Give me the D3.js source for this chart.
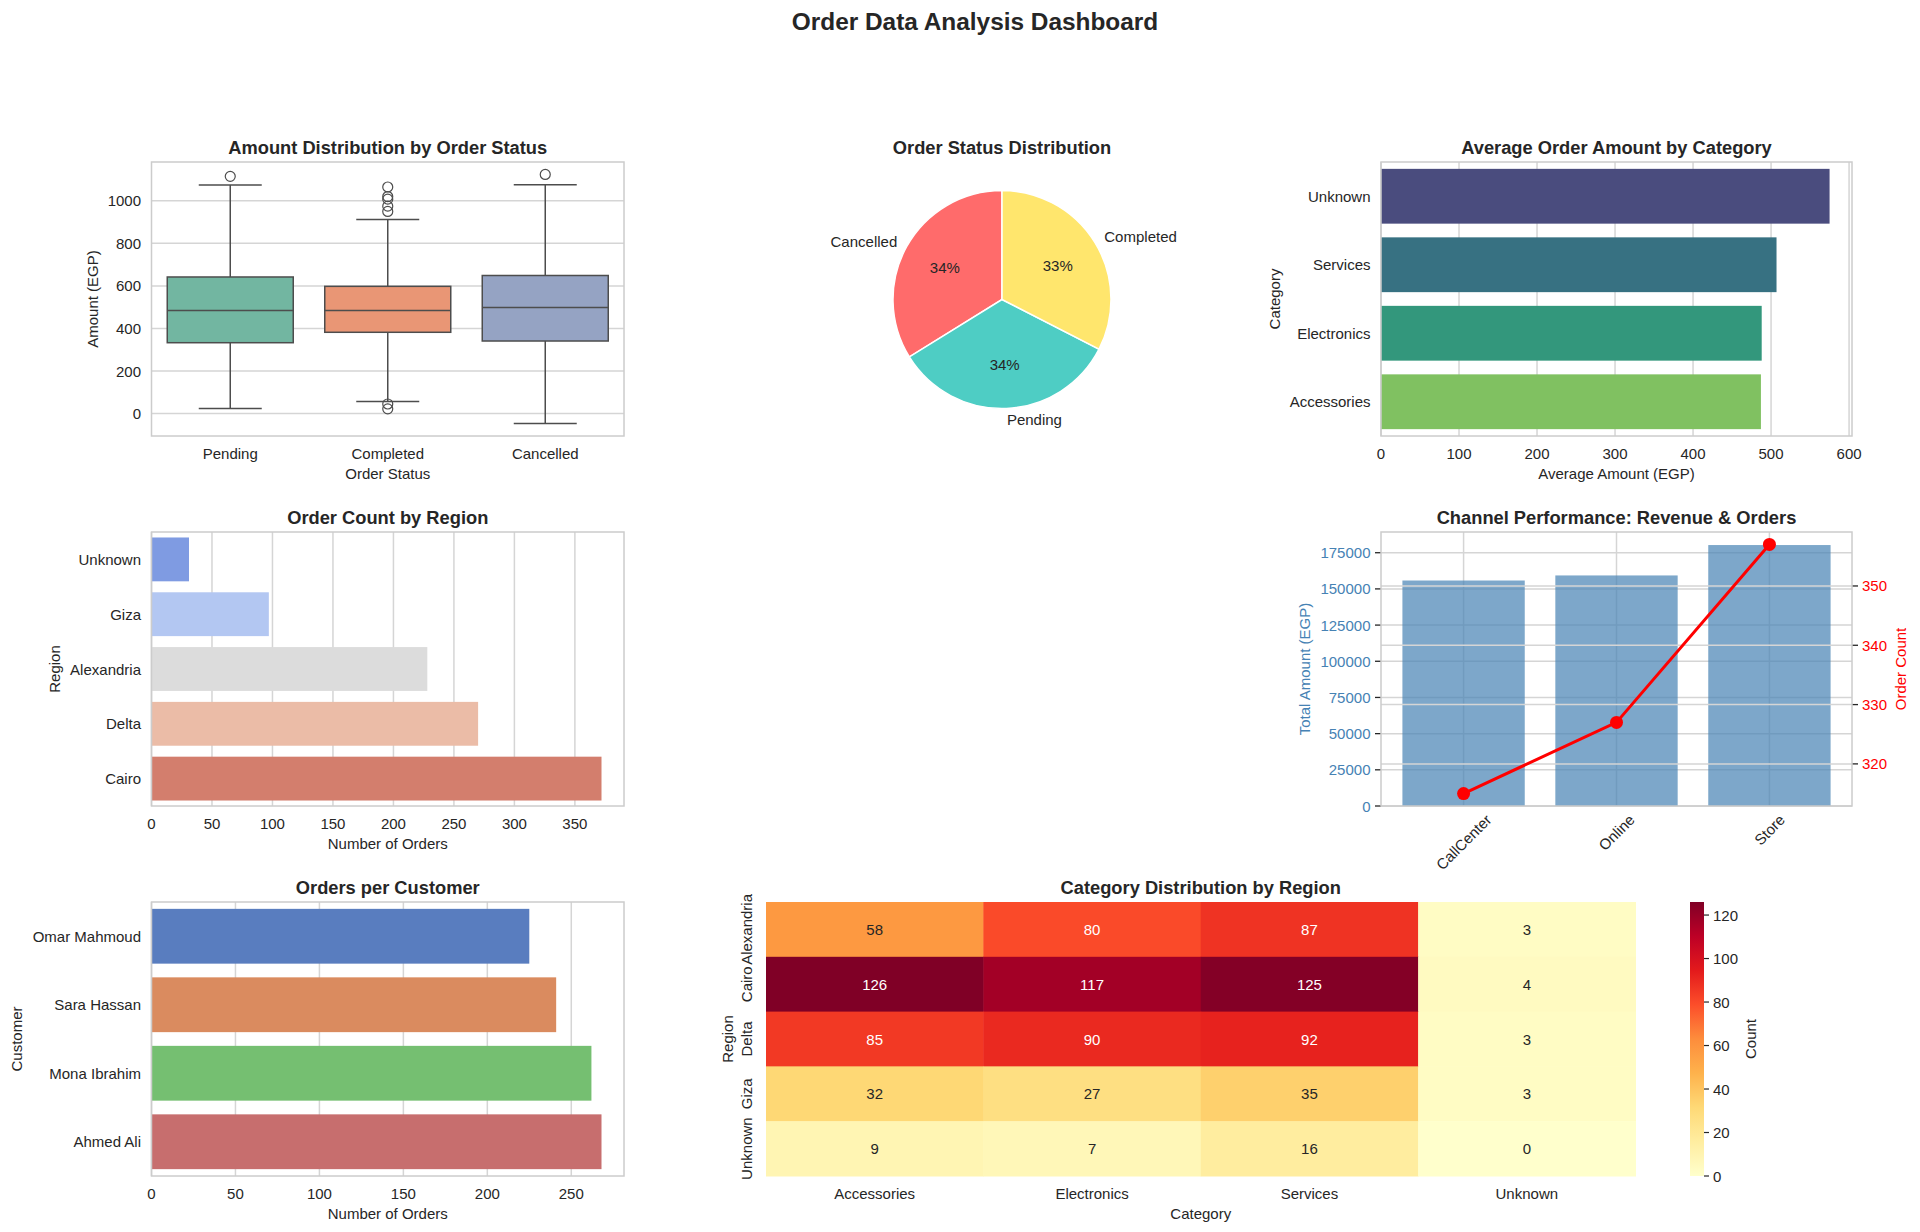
<!DOCTYPE html>
<html><head><meta charset="utf-8">
<script src="https://cdn.jsdelivr.net/npm/d3@7"></script>
<style>body{margin:0;background:#fff;} svg text{font-family:"Liberation Sans",Arial,Helvetica,sans-serif;}</style>
</head><body>
<svg id="c" width="1920" height="1232"></svg>
<script>
// ---------------- DATA ----------------
const boxStatus = ["Pending", "Completed", "Cancelled"];
const boxLowWhisker = [24, 57, -47];
const boxQ1 = [333, 382, 341];
const boxMedian = [485, 485, 499];
const boxQ3 = [642, 598, 649];
const boxHighWhisker = [1074, 912, 1076];
const boxOutliers = [[1115], [1065, 1020, 1008, 975, 950, 45, 22], [1124]];
const boxTicks = [0, 200, 400, 600, 800, 1000];

const pieLabels = ["Cancelled", "Pending", "Completed"];
const pieCounts = [338, 336, 325];

const avgCategories = ["Unknown", "Services", "Electronics", "Accessories"];
const avgAmounts = [575, 507, 488, 487];
const avgTicks = [0, 100, 200, 300, 400, 500, 600];

const regionNames = ["Unknown", "Giza", "Alexandria", "Delta", "Cairo"];
const regionCounts = [31, 97, 228, 270, 372];
const regionTicks = [0, 50, 100, 150, 200, 250, 300, 350];

const channels = ["CallCenter", "Online", "Store"];
const channelRevenue = [155800, 159300, 180300];
const channelOrders = [315, 327, 357];
const revenueTicks = [0, 25000, 50000, 75000, 100000, 125000, 150000, 175000];
const orderTicks = [320, 330, 340, 350];

const customers = ["Omar Mahmoud", "Sara Hassan", "Mona Ibrahim", "Ahmed Ali"];
const customerOrders = [225, 241, 262, 268];
const customerTicks = [0, 50, 100, 150, 200, 250];

const heatRegions = ["Alexandria", "Cairo", "Delta", "Giza", "Unknown"];
const heatCategories = ["Accessories", "Electronics", "Services", "Unknown"];
const heatValues = [
  [58, 80, 87, 3],
  [126, 117, 125, 4],
  [85, 90, 92, 3],
  [32, 27, 35, 3],
  [9, 7, 16, 0]
];
const colorbarTicks = [0, 20, 40, 60, 80, 100, 120];

// ---------------- STYLE ----------------
const INK = "#262626", SPINE = "#cccccc", GRID = "#d5d5d5", LINE = "#4d4d4d";
function desat(c, p) { const h = d3.hsl(c); h.s *= p; return h.formatHex(); }
const set2 = ["#66c2a5", "#fc8d62", "#8da0cb"].map(c => desat(c, 0.75));
const viridis4 = [0.2, 0.4, 0.6, 0.8].map(t => desat(d3.rgb(d3.interpolateViridis(t)).formatHex(), 0.75));
const coolwarm5 = ["#7f9be2", "#b3c7f2", "#dcdcdc", "#ebbca7", "#d37e6d"];
const muted4 = ["#4878d0", "#ee854a", "#6acc64", "#d65f5f"].map(c => desat(c, 0.75));
const pieColors = ["#FF6B6B", "#4ECDC4", "#FFE66D"];
const ylorrd = ["#ffffcc", "#ffeda0", "#fed976", "#feb24c", "#fd8d3c", "#fc4e2a", "#e31a1c", "#bd0026", "#800026"];

const svg = d3.select("#c");

function text(g, x, y, s, o = {}) {
  const t = g.append("text").attr("x", x).attr("y", y).text(s)
    .attr("font-size", o.size || 15).attr("fill", o.fill || INK)
    .attr("text-anchor", o.anchor || "middle").attr("dominant-baseline", "central");
  if (o.bold) t.attr("font-weight", "bold");
  if (o.rotate) t.attr("transform", `rotate(${o.rotate},${x},${y})`);
  return t;
}
function frame(g, X) {
  g.append("rect").attr("x", X.x0).attr("y", X.y0).attr("width", X.x1 - X.x0).attr("height", X.y1 - X.y0)
    .attr("fill", "none").attr("stroke", SPINE).attr("stroke-width", 1.5);
}
function hline(g, x0, x1, y, c, w) { g.append("line").attr("x1", x0).attr("x2", x1).attr("y1", y).attr("y2", y).attr("stroke", c).attr("stroke-width", w); }
function vline(g, x, y0, y1, c, w) { g.append("line").attr("x1", x).attr("x2", x).attr("y1", y0).attr("y2", y1).attr("stroke", c).attr("stroke-width", w); }

const TITLE = 18.3;
// Suptitle
text(svg, 975, 21, "Order Data Analysis Dashboard", { size: 24.4, bold: true });

// ---------------- BOX PLOT ----------------
(function () {
  const X = { x0: 151.5, x1: 624, y0: 162, y1: 436 };
  const g = svg.append("g");
  const all = boxLowWhisker.concat(boxHighWhisker, boxOutliers.flat());
  const [mn, mx] = d3.extent(all); const pad = (mx - mn) * 0.05;
  const y = d3.scaleLinear().domain([mn - pad, mx + pad]).range([X.y1, X.y0]);
  const x = d3.scaleBand().domain(boxStatus).range([X.x0, X.x1]);
  const bw = x.bandwidth() * 0.8;
  boxTicks.forEach(t => { hline(g, X.x0, X.x1, y(t), GRID, 1.5); text(g, X.x0 - 10.5, y(t), t, { anchor: "end" }); });
  boxStatus.forEach((s, i) => {
    const cx = x(s) + x.bandwidth() / 2;
    vline(g, cx, y(boxQ3[i]), y(boxHighWhisker[i]), LINE, 1.5);
    vline(g, cx, y(boxQ1[i]), y(boxLowWhisker[i]), LINE, 1.5);
    hline(g, cx - bw / 4, cx + bw / 4, y(boxHighWhisker[i]), LINE, 1.5);
    hline(g, cx - bw / 4, cx + bw / 4, y(boxLowWhisker[i]), LINE, 1.5);
    g.append("rect").attr("x", cx - bw / 2).attr("y", y(boxQ3[i])).attr("width", bw)
      .attr("height", y(boxQ1[i]) - y(boxQ3[i])).attr("fill", set2[i]).attr("stroke", LINE).attr("stroke-width", 1.5);
    hline(g, cx - bw / 2, cx + bw / 2, y(boxMedian[i]), LINE, 1.5);
    boxOutliers[i].forEach(v => g.append("circle").attr("cx", cx).attr("cy", y(v)).attr("r", 5)
      .attr("fill", "none").attr("stroke", LINE).attr("stroke-width", 1.2));
    text(g, cx, X.y1 + 17, s);
  });
  text(g, (X.x0 + X.x1) / 2, X.y1 + 37, "Order Status");
  text(g, 92.6, (X.y0 + X.y1) / 2, "Amount (EGP)", { rotate: -90 });
  text(g, (X.x0 + X.x1) / 2, X.y0 - 15, "Amount Distribution by Order Status", { size: TITLE, bold: true });
  frame(g, X);
})();

// ---------------- PIE ----------------
(function () {
  const g = svg.append("g");
  const cx = 1002, cy = 299.5, r = 109;
  text(g, cx, 147, "Order Status Distribution", { size: TITLE, bold: true });
  const total = d3.sum(pieCounts);
  const arcs = d3.pie().sort(null).startAngle(0).endAngle(-2 * Math.PI)(pieCounts);
  const arc = d3.arc().innerRadius(0).outerRadius(r);
  const pg = g.append("g").attr("transform", `translate(${cx},${cy})`);
  arcs.forEach((a, i) => {
    pg.append("path").attr("d", arc(a)).attr("fill", pieColors[i]).attr("stroke", "#fff").attr("stroke-width", 1.5);
  });
  arcs.forEach((a, i) => {
    const m = (a.startAngle + a.endAngle) / 2;
    const lx = Math.sin(m) * r * 1.1, ly = -Math.cos(m) * r * 1.1;
    text(pg, lx, ly, pieLabels[i], { anchor: lx < 0 ? "end" : "start" });
    const px = Math.sin(m) * r * 0.6, py = -Math.cos(m) * r * 0.6;
    text(pg, px, py, Math.round(pieCounts[i] / total * 100) + "%");
  });
})();

// ---------------- HORIZONTAL BARS ----------------
function hbar(cfg) {
  const { cats, vals, colors, X, ticks, xlabel, ylabel, ylabelX, title } = cfg;
  const g = svg.append("g");
  const x = d3.scaleLinear().domain([0, d3.max(vals) * 1.05]).range([X.x0, X.x1]);
  const y = d3.scaleBand().domain(cats).range([X.y0, X.y1]);
  const bw = y.bandwidth();
  ticks.forEach(t => { vline(g, x(t), X.y0, X.y1, GRID, 1.5); text(g, x(t), X.y1 + 17, t); });
  cats.forEach((c, i) => {
    g.append("rect").attr("x", x(0)).attr("y", y(c) + 0.1 * bw).attr("width", x(vals[i]) - x(0))
      .attr("height", 0.8 * bw).attr("fill", colors[i]);
    text(g, X.x0 - 10.5, y(c) + bw / 2, c, { anchor: "end" });
  });
  text(g, (X.x0 + X.x1) / 2, X.y1 + 37, xlabel);
  text(g, ylabelX, (X.y0 + X.y1) / 2, ylabel, { rotate: -90 });
  text(g, (X.x0 + X.x1) / 2, X.y0 - 15, title, { size: TITLE, bold: true });
  frame(g, X);
}
hbar({ cats: avgCategories, vals: avgAmounts, colors: viridis4, X: { x0: 1381, x1: 1852, y0: 162, y1: 436 },
  ticks: avgTicks, xlabel: "Average Amount (EGP)", ylabel: "Category", ylabelX: 1274.7, title: "Average Order Amount by Category" });
hbar({ cats: regionNames, vals: regionCounts, colors: coolwarm5, X: { x0: 151.5, x1: 624, y0: 532, y1: 806 },
  ticks: regionTicks, xlabel: "Number of Orders", ylabel: "Region", ylabelX: 54.7, title: "Order Count by Region" });
hbar({ cats: customers, vals: customerOrders, colors: muted4, X: { x0: 151.5, x1: 624, y0: 902, y1: 1176 },
  ticks: customerTicks, xlabel: "Number of Orders", ylabel: "Customer", ylabelX: 16.8, title: "Orders per Customer" });

// ---------------- CHANNEL ----------------
(function () {
  const X = { x0: 1381, x1: 1852, y0: 532, y1: 806 };
  const g = svg.append("g");
  const barW = 0.8, n = channels.length;
  const span = (n - 1) + barW, m = span * 0.05;
  const x = d3.scaleLinear().domain([-barW / 2 - m, n - 1 + barW / 2 + m]).range([X.x0, X.x1]);
  const yL = d3.scaleLinear().domain([0, d3.max(channelRevenue) * 1.05]).range([X.y1, X.y0]);
  const [omn, omx] = d3.extent(channelOrders); const op = (omx - omn) * 0.05;
  const yR = d3.scaleLinear().domain([omn - op, omx + op]).range([X.y1, X.y0]);
  channels.forEach((c, i) => vline(g, x(i), X.y0, X.y1, GRID, 1.5));
  revenueTicks.forEach(t => {
    hline(g, X.x0, X.x1, yL(t), GRID, 1.5);
    hline(g, X.x0 - 6, X.x0, yL(t), INK, 1.3);
    text(g, X.x0 - 10.5, yL(t), t, { anchor: "end", fill: "#4682b4" });
  });
  channels.forEach((c, i) => {
    g.append("rect").attr("x", x(i - barW / 2)).attr("y", yL(channelRevenue[i]))
      .attr("width", x(i + barW / 2) - x(i - barW / 2)).attr("height", yL(0) - yL(channelRevenue[i]))
      .attr("fill", "#4682b4").attr("fill-opacity", 0.7);
  });
  orderTicks.forEach(t => {
    hline(g, X.x0, X.x1, yR(t), GRID, 1.5);
    hline(g, X.x1, X.x1 + 6, yR(t), INK, 1.3);
    text(g, X.x1 + 10, yR(t), t, { anchor: "start", fill: "#ff0000" });
  });
  const line = d3.line().x((d, i) => x(i)).y(d => yR(d));
  g.append("path").attr("d", line(channelOrders)).attr("fill", "none").attr("stroke", "#ff0000").attr("stroke-width", 3);
  channelOrders.forEach((d, i) => g.append("circle").attr("cx", x(i)).attr("cy", yR(d)).attr("r", 6.5).attr("fill", "#ff0000"));
  channels.forEach((c, i) => {
    const t = text(g, 0, 0, c);
    const w = t.node().getComputedTextLength(), h = 17;
    const bh = (w + h) * Math.SQRT1_2;
    const cx = x(i), cy = X.y1 + 5 + bh / 2;
    t.attr("x", cx).attr("y", cy).attr("transform", `rotate(-45,${cx},${cy})`);
  });
  text(g, 1304, (X.y0 + X.y1) / 2, "Total Amount (EGP)", { rotate: -90, fill: "#4682b4" });
  text(g, 1900, (X.y0 + X.y1) / 2, "Order Count", { rotate: -90, fill: "#ff0000" });
  text(g, (X.x0 + X.x1) / 2, X.y0 - 15, "Channel Performance: Revenue & Orders", { size: TITLE, bold: true });
  frame(g, X);
})();

// ---------------- HEATMAP ----------------
(function () {
  const X = { x0: 766, x1: 1635.5, y0: 902, y1: 1176 };
  const g = svg.append("g");
  const vmax = d3.max(heatValues.flat());
  const color = d3.scaleLinear().domain(ylorrd.map((c, i) => i / (ylorrd.length - 1) * vmax)).range(ylorrd).interpolate(d3.interpolateRgb);
  const x = d3.scaleBand().domain(heatCategories).range([X.x0, X.x1]);
  const y = d3.scaleBand().domain(heatRegions).range([X.y0, X.y1]);
  function lum(c) {
    const r = d3.rgb(c);
    const f = v => { v /= 255; return v <= 0.03928 ? v / 12.92 : Math.pow((v + 0.055) / 1.055, 2.4); };
    return 0.2126 * f(r.r) + 0.7152 * f(r.g) + 0.0722 * f(r.b);
  }
  heatRegions.forEach((rg, i) => heatCategories.forEach((ct, j) => {
    const v = heatValues[i][j], c = color(v);
    g.append("rect").attr("x", x(ct)).attr("y", y(rg)).attr("width", x.bandwidth() + 0.5).attr("height", y.bandwidth() + 0.5).attr("fill", c);
    text(g, x(ct) + x.bandwidth() / 2, y(rg) + y.bandwidth() / 2, v, { fill: lum(c) > 0.408 ? INK : "#ffffff" });
  }));
  heatCategories.forEach(ct => text(g, x(ct) + x.bandwidth() / 2, X.y1 + 17, ct));
  heatRegions.forEach(rg => text(g, 746.7, y(rg) + y.bandwidth() / 2, rg, { rotate: -90 }));
  text(g, (X.x0 + X.x1) / 2, X.y1 + 37, "Category");
  text(g, 727, (X.y0 + X.y1) / 2, "Region", { rotate: -90 });
  text(g, (X.x0 + X.x1) / 2, X.y0 - 15, "Category Distribution by Region", { size: TITLE, bold: true });
  // colorbar
  const C = { x0: 1690, x1: 1704 };
  const cy = d3.scaleLinear().domain([0, vmax]).range([X.y1, X.y0]);
  const defs = svg.append("defs");
  const grad = defs.append("linearGradient").attr("id", "cb").attr("x1", 0).attr("y1", 1).attr("x2", 0).attr("y2", 0);
  ylorrd.forEach((c, i) => grad.append("stop").attr("offset", i / (ylorrd.length - 1)).attr("stop-color", c));
  g.append("rect").attr("x", C.x0).attr("y", X.y0).attr("width", C.x1 - C.x0).attr("height", X.y1 - X.y0).attr("fill", "url(#cb)");
  colorbarTicks.forEach(t => {
    hline(g, C.x1, C.x1 + 5, cy(t), INK, 1.2);
    text(g, C.x1 + 9, cy(t), t, { anchor: "start" });
  });
  text(g, 1750, (X.y0 + X.y1) / 2, "Count", { rotate: -90 });
})();
</script>
</body></html>
